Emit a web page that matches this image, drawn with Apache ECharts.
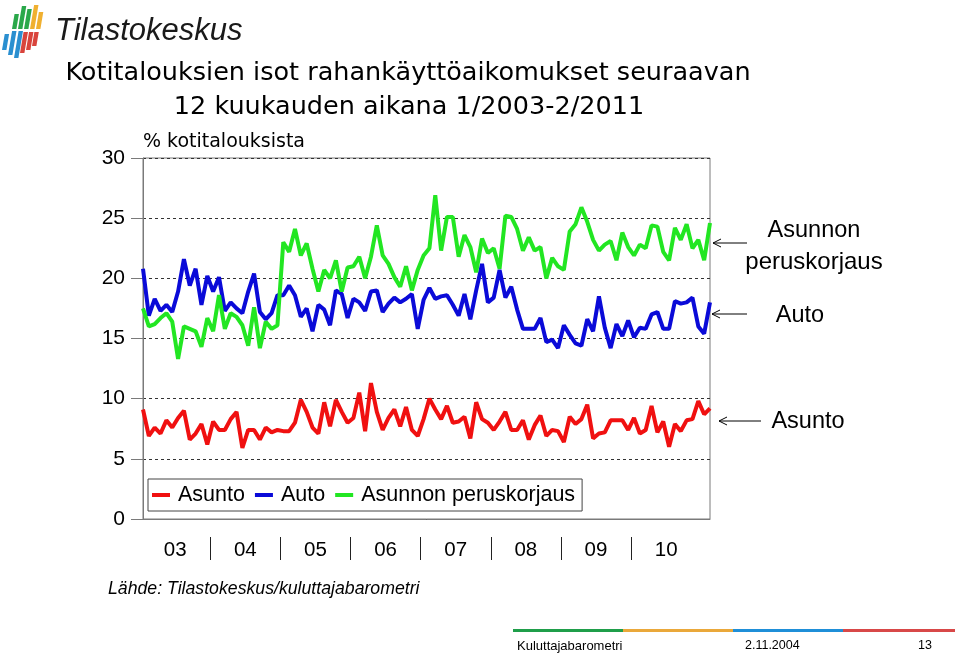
<!DOCTYPE html>
<html><head><meta charset="utf-8">
<script src="https://cdn.jsdelivr.net/npm/echarts@6/dist/echarts.min.js"></script>
<style>html,body{margin:0;padding:0;background:#fff}#c{width:959px;height:654px}</style>
</head><body><div id="c"></div>
<script>
// ---- data ----
const yearLabels = ['03','04','05','06','07','08','09','10'];
const seriesNames = ['Asunto','Auto','Asunnon peruskorjaus'];
const asunto = [
 9.1,6.9,7.6,7.1,8.2,7.6,8.4,9.0,6.6,7.1,7.9,6.2,8.1,7.4,7.4,8.3,8.9,5.9,7.4,7.4,6.6,7.6,7.2,7.4,7.3,
 7.3,8.0,9.9,8.9,7.6,7.1,9.7,7.7,9.9,8.9,8.0,8.4,10.5,7.3,11.3,8.9,7.4,8.4,9.1,7.7,9.3,7.4,6.9,8.3,10.0,
 9.1,8.3,9.4,8.0,8.1,8.5,6.7,9.7,8.3,8.0,7.4,8.1,8.9,7.4,7.4,8.2,6.6,7.8,8.6,6.9,7.4,7.3,6.4,8.5,7.9,
 8.3,9.5,6.7,7.1,7.2,8.2,8.2,8.2,7.4,8.4,7.1,7.4,9.4,7.2,8.1,6.0,7.9,7.3,8.2,8.3,9.8,8.7,9.2
];
const auto = [
 20.8,16.9,18.3,17.3,17.8,17.2,18.9,21.6,19.4,20.8,17.8,20.2,18.9,20.1,17.3,18.0,17.5,17.1,18.9,20.4,17.2,16.6,17.1,18.6,18.6,
 19.4,18.6,16.8,17.5,15.6,17.8,17.4,16.1,19.0,18.7,16.7,18.3,18.0,17.3,18.9,19.0,17.2,17.9,18.4,18.0,18.3,18.7,15.8,18.2,19.2,
 18.3,18.5,18.6,17.8,16.9,18.7,16.6,19.0,21.2,18.0,18.4,20.7,18.4,19.3,17.4,15.8,15.8,15.8,16.7,14.7,14.9,14.2,16.1,15.3,14.6,
 14.4,16.6,15.6,18.5,15.9,14.2,16.2,15.2,16.5,15.1,15.9,15.8,17.0,17.2,15.8,15.8,18.1,17.9,18.0,18.4,16.0,15.4,18.0
];
const peruskorjaus = [
 17.5,16.0,16.2,16.7,17.1,16.4,13.3,16.0,15.8,15.6,14.3,16.7,15.6,18.6,15.8,17.1,16.8,16.1,14.4,17.6,14.2,16.4,15.8,16.1,23.0,
 22.2,24.1,21.9,22.9,20.8,18.9,20.7,20.0,21.5,18.9,20.9,21.0,21.8,20.0,21.8,24.4,21.9,21.2,20.1,19.3,21.0,19.0,20.7,21.9,22.5,
 26.9,22.3,25.1,25.1,21.8,23.6,22.6,20.5,23.3,22.1,22.5,20.8,25.2,25.1,24.1,22.3,23.4,22.3,22.6,20.0,21.7,21.0,20.7,23.9,24.5,
 25.9,24.7,23.2,22.3,22.8,23.1,21.5,23.8,22.6,21.9,22.8,22.5,24.4,24.3,22.2,21.5,24.2,23.2,24.5,22.5,23.2,21.5,24.6
];

// month categories 1/2003 .. 2/2011
const months = [];
for (let y = 2003; y <= 2011; y++) {
  for (let m = 1; m <= 12; m++) {
    if (y === 2011 && m > 2) break;
    months.push(m + '/' + y);
  }
}
// year separators and label centres (month-index units)
const yearSeparators = yearLabels.slice(1).map((_, k) => 12 * (k + 1) - 0.5);
const yearCentres = yearLabels.map((_, k) => 12 * k + 5.5);

const colors = ['#f01010', '#0a0ad8', '#22e622'];
const FONT = 'Liberation Sans, Arial, sans-serif';

const chart = echarts.init(document.getElementById('c'), null, {renderer: 'canvas'});

// logo bars (decoration)
const logoBars = [
  [2, 34, 50, '#2a8fd0'], [8, 31, 55, '#2a8fd0'], [14, 31, 58, '#2a8fd0'],
  [20, 32, 53, '#d9443c'], [26, 32, 50, '#d9443c'], [32, 32, 46, '#d9443c'],
  [12, 14, 29, '#2aa84a'], [18, 6, 29, '#2aa84a'], [24, 9, 29, '#2aa84a'],
  [30, 5, 29, '#f0b030'], [36, 12, 29, '#f0b030']
];
const logoGraphics = logoBars.map(b => {
  const [x, t, bt, c] = b, s = 0.17, w = 4.4;
  const xb = x, xt = x + (bt - t) * s;
  return {type: 'polygon', shape: {points: [[xb, bt], [xb + w, bt], [xt + w, t], [xt, t]]}, style: {fill: c}};
});

function arrow(x1, x2, y) {
  return [
    {type: 'line', shape: {x1: x1, y1: y, x2: x2, y2: y}, style: {stroke: '#000', lineWidth: 1}},
    {type: 'polyline', shape: {points: [[x2 + 8, y - 4], [x2, y], [x2 + 8, y + 4]]}, style: {stroke: '#000', lineWidth: 1, fill: null}}
  ];
}

const option = {
  backgroundColor: '#fff',
  animation: false,
  grid: {left: 143, right: 249, top: 158, bottom: 135, show: true, borderColor: '#7a7a7a', borderWidth: 1, containLabel: false},
  legend: {
    data: seriesNames, left: 148, top: 479, orient: 'horizontal',
    backgroundColor: '#fff', borderColor: '#444', borderWidth: 1, padding: [5, 7, 5, 4],
    itemWidth: 18, itemHeight: 4, itemGap: 10, icon: 'rect',
    textStyle: {fontSize: 21.5, color: '#000', fontFamily: FONT, padding: [0, 0, 0, 3]}
  },
  xAxis: [{
    type: 'category', data: months, boundaryGap: false,
    axisLine: {show: true, lineStyle: {color: '#7a7a7a'}},
    axisTick: {show: false}, axisLabel: {show: false}, splitLine: {show: false}
  }, {
    type: 'value', min: 0, max: months.length - 1, position: 'bottom', offset: 18,
    axisLine: {show: false},
    axisTick: {show: true, customValues: yearSeparators, length: 23, lineStyle: {color: '#222', width: 1}},
    axisLabel: {show: true, customValues: yearCentres, margin: 3, fontSize: 20.5, color: '#000', fontFamily: FONT,
      formatter: v => yearLabels[Math.floor(v / 12)]},
    splitLine: {show: false}
  }],
  yAxis: {
    type: 'value', min: 0, max: 30, interval: 5,
    axisLine: {show: true, lineStyle: {color: '#7a7a7a'}},
    axisTick: {show: true, length: 12, lineStyle: {color: '#7a7a7a'}},
    axisLabel: {fontSize: 21, color: '#000', margin: 18, fontFamily: FONT},
    splitLine: {show: true, lineStyle: {color: '#333', type: [3, 3], width: 1}}
  },
  series: [
    {name: seriesNames[0], type: 'line', data: asunto, symbol: 'none', lineStyle: {width: 4, color: colors[0]}, itemStyle: {color: colors[0]}},
    {name: seriesNames[1], type: 'line', data: auto, symbol: 'none', lineStyle: {width: 4, color: colors[1]}, itemStyle: {color: colors[1]}},
    {name: seriesNames[2], type: 'line', data: peruskorjaus, symbol: 'none', lineStyle: {width: 4, color: colors[2]}, itemStyle: {color: colors[2]}}
  ],
  graphic: [
    ...logoGraphics,
    {type: 'text', x: 55, y: 31, style: {text: 'Tilastokeskus', font: 'italic 31px ' + FONT, fill: '#1a1a1a', textVerticalAlign: 'middle'}},
    {type: 'text', x: 408, y: 73, style: {text: 'Kotitalouksien isot rahankäyttöaikomukset seuraavan', font: '25.5px DejaVu Sans', fill: '#000', textAlign: 'center', textVerticalAlign: 'middle'}},
    {type: 'text', x: 409, y: 107, style: {text: '12 kuukauden aikana 1/2003-2/2011', font: '25.5px DejaVu Sans', fill: '#000', textAlign: 'center', textVerticalAlign: 'middle'}},
    {type: 'text', x: 143, y: 142, style: {text: '% kotitalouksista', font: '19px DejaVu Sans', fill: '#000', textVerticalAlign: 'middle'}},
    {type: 'text', x: 814, y: 231, style: {text: 'Asunnon', font: '23.5px ' + FONT, fill: '#000', textAlign: 'center', textVerticalAlign: 'middle'}},
    {type: 'text', x: 814, y: 262, style: {text: 'peruskorjaus', font: '24px ' + FONT, fill: '#000', textAlign: 'center', textVerticalAlign: 'middle'}},
    {type: 'text', x: 800, y: 316, style: {text: 'Auto', font: '23.5px ' + FONT, fill: '#000', textAlign: 'center', textVerticalAlign: 'middle'}},
    {type: 'text', x: 808, y: 422, style: {text: 'Asunto', font: '23.5px ' + FONT, fill: '#000', textAlign: 'center', textVerticalAlign: 'middle'}},
    ...arrow(747, 713, 243),
    ...arrow(747, 712, 314),
    ...arrow(761, 719, 421),
    {type: 'text', x: 108, y: 589, style: {text: 'Lähde: Tilastokeskus/kuluttajabarometri', font: 'italic 17.7px ' + FONT, fill: '#000', textVerticalAlign: 'middle'}},
    {type: 'rect', shape: {x: 513, y: 629, width: 110, height: 3}, style: {fill: '#1f9e4a'}},
    {type: 'rect', shape: {x: 623, y: 629, width: 110, height: 3}, style: {fill: '#eaa83a'}},
    {type: 'rect', shape: {x: 733, y: 629, width: 110, height: 3}, style: {fill: '#1f8fd8'}},
    {type: 'rect', shape: {x: 843, y: 629, width: 112, height: 3}, style: {fill: '#d84848'}},
    {type: 'text', x: 517, y: 646, style: {text: 'Kuluttajabarometri', font: '13px ' + FONT, fill: '#000', textVerticalAlign: 'middle'}},
    {type: 'text', x: 745, y: 646, style: {text: '2.11.2004', font: '12.5px ' + FONT, fill: '#000', textVerticalAlign: 'middle'}},
    {type: 'text', x: 918, y: 646, style: {text: '13', font: '12.5px ' + FONT, fill: '#000', textVerticalAlign: 'middle'}}
  ]
};
chart.setOption(option);
</script>
</body></html>
